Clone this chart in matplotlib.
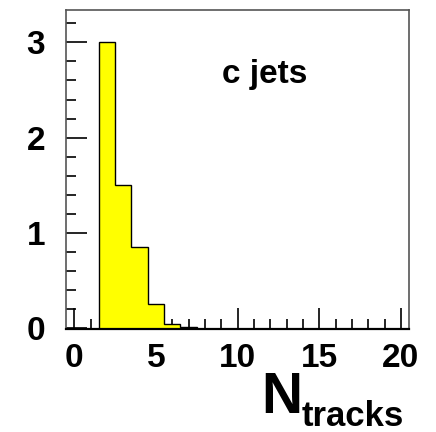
import numpy as np
import matplotlib
matplotlib.use("Agg")
import matplotlib.pyplot as plt
from matplotlib.ticker import MultipleLocator

# histogram contents (bin centres and heights)
bin_centers = [2, 3, 4, 5, 6, 7]
bin_values = [3.0, 1.5, 0.85, 0.25, 0.045, 0.015]
x_ticks = [0, 5, 10, 15, 20]
y_ticks = [0, 1, 2, 3]
label_text = "c jets"

plt.rcParams['font.family'] = ['Liberation Sans', 'DejaVu Sans']
plt.rcParams['font.weight'] = 'bold'

fig = plt.figure(figsize=(4.36, 4.32), dpi=100)
ax = fig.add_axes([66/436, 1 - 329/432, (409 - 66)/436, (329 - 10)/432])

edges = np.concatenate([np.array(bin_centers) - 0.5, [bin_centers[-1] + 0.5]])
ax.stairs(bin_values, edges, fill=True, color='#ffff00', zorder=2)
ax.stairs(bin_values, edges, color='black', linewidth=1.0, zorder=3)

ax.set_xlim(-0.5, 20.5)
ax.set_ylim(-0.01, 3.34)

ax.set_xticks(x_ticks)
ax.set_yticks(y_ticks)
ax.xaxis.set_minor_locator(MultipleLocator(1))
ax.yaxis.set_minor_locator(MultipleLocator(0.2))
ax.tick_params(which='both', direction='in', top=False, right=False,
               labelsize=24, color='black', width=1.2)
ax.tick_params(which='major', length=15)
ax.tick_params(which='minor', length=7)
ax.tick_params(axis='x', which='major', pad=10)
ax.tick_params(axis='y', which='major', pad=15)
for lab in ax.get_xticklabels() + ax.get_yticklabels():
    lab.set_fontweight('bold')

for s in ax.spines.values():
    s.set_color('#555555')
    s.set_linewidth(1.2)
ax.spines['bottom'].set_color('black')
ax.spines['bottom'].set_linewidth(1.6)

ax.text(222/436, 1 - 83/432, label_text, transform=fig.transFigure,
        fontsize=24, fontweight='bold', ha='left', va='baseline')

# axis title N_tracks drawn as two pieces
fig.text(261/436, 1 - 413/432, "N", fontsize=41, fontweight='bold',
         ha='left', va='baseline')
fig.text(302/436, 1 - 426/432, "tracks", fontsize=25, fontweight='bold',
         ha='left', va='baseline')

fig.savefig("out.png", dpi=100)
